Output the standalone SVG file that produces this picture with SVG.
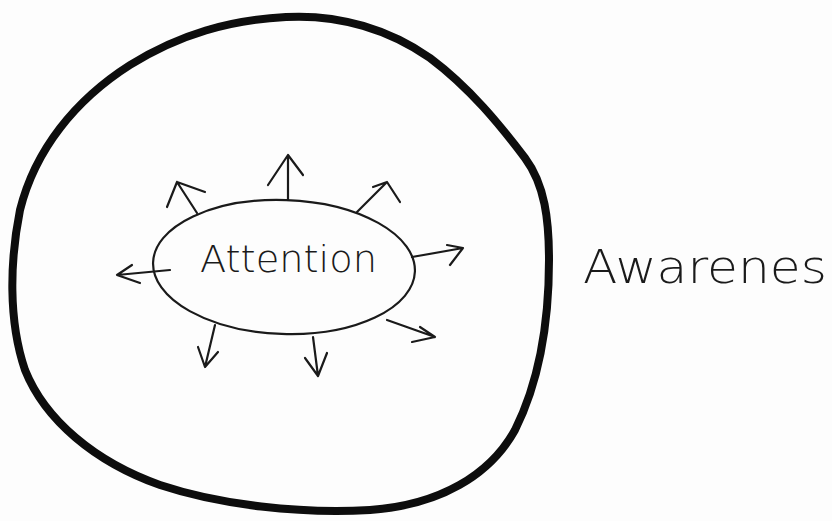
<svg xmlns="http://www.w3.org/2000/svg" width="832" height="521" viewBox="0 0 832 521">
<style>
.ln{fill:none;stroke:#1a1a1a;stroke-width:2.2;stroke-linecap:round;stroke-linejoin:round}
.big{fill:none;stroke:#0d0d0d;stroke-width:8;stroke-linecap:round;stroke-linejoin:round}
.tx{font-family:"DejaVu Sans","Liberation Sans",sans-serif;fill:#1a1a1a;font-weight:300}
</style>
<rect width="832" height="521" fill="#fdfdfd"/>
<g id="awareness">
<path class="big" d="M286,17 C340,14 390,30 430,58 C470,88 500,125 525,158 C545,185 549,220 549,260 C549,320 540,380 515,430 C490,475 440,505 370,510 C300,514 220,505 160,485 C95,462 45,420 25,370 C8,320 10,260 20,210 C35,150 75,100 130,65 C180,34 230,20 286,17 Z"/>
<text class="tx" x="583" y="283" font-size="46" textLength="244" lengthAdjust="spacingAndGlyphs">Awarenes</text>
</g>
<g id="attention">
<ellipse class="ln" cx="284" cy="267" rx="131" ry="67" transform="rotate(2 284 267)"/>
<text class="tx" x="200" y="272" font-size="38" textLength="177" lengthAdjust="spacingAndGlyphs">Attention</text>
</g>
<g id="connectors">
<path class="ln" d="M197,213 L177,182 M167,207 L177,182 L205,192"/>
<path class="ln" d="M288,200 L288,155 M268,185 L288,155 L303,175"/>
<path class="ln" d="M357,212 L387,182 M373,187 L387,182 L400,202"/>
<path class="ln" d="M412,257 L463,248 M447,245 L463,248 L450,265"/>
<path class="ln" d="M387,320 L435,337 M420,327 L435,337 L412,342"/>
<path class="ln" d="M313,337 L318,376 M305,358 L318,376 L327,353"/>
<path class="ln" d="M215,325 L205,367 M198,347 L205,367 L218,352"/>
<path class="ln" d="M170,270 L117,275 M132,265 L117,275 L140,283"/>
</g>
</svg>
